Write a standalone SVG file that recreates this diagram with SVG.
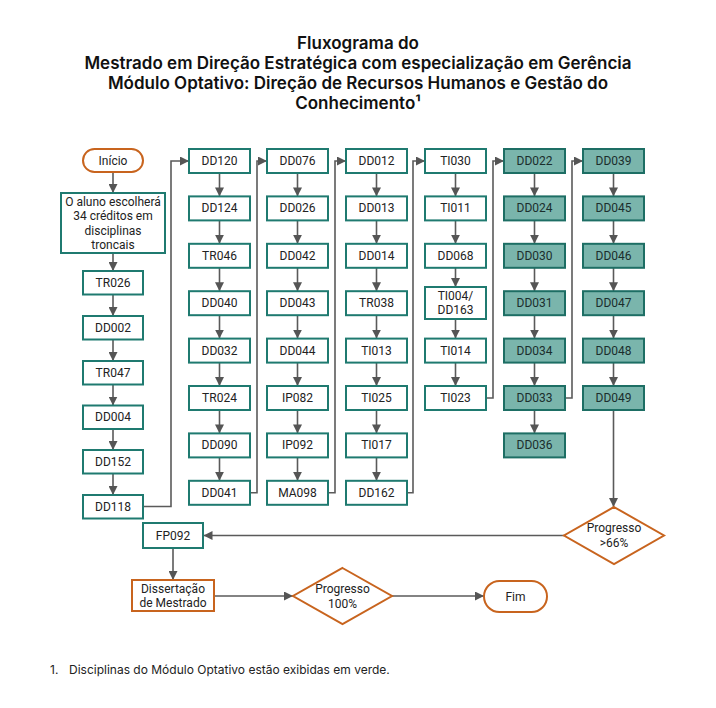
<svg xmlns="http://www.w3.org/2000/svg" width="716" height="708" viewBox="0 0 716 708">
<style>
.bg{fill:#ffffff}
.title{font-family:Inter,"Liberation Sans",sans-serif;font-size:17px;font-weight:600;fill:#111;text-anchor:middle}
.foot{font-family:Inter,"Liberation Sans",sans-serif;font-size:12px;fill:#222}
.box rect{fill:#ffffff;stroke:#1f7a70;stroke-width:2}
.opt rect{fill:#7ab5ac;stroke:#1d6e64;stroke-width:2}
.org rect,.org path{fill:#ffffff;stroke:#c8641e;stroke-width:2}
.lbl{font-family:Roboto,"Liberation Sans",sans-serif;font-size:12px;fill:#222;text-anchor:middle;dominant-baseline:central}
.opt .lbl{fill:#1b2e2c}
.con path{fill:none;stroke:#5a5a5a;stroke-width:1.6}
</style>
<defs>
<marker id="ah" viewBox="0 0 10 10" refX="10" refY="5" markerWidth="9" markerHeight="9" markerUnits="userSpaceOnUse" orient="auto">
<path d="M0,0 L10,5 L0,10 z" fill="#555555"/>
</marker>
</defs>
<rect class="bg" x="0" y="0" width="716" height="708"/>

<g id="title">
<text class="title" x="358" y="49">Fluxograma do</text>
<text class="title" x="358" y="69">Mestrado em Direção Estratégica com especialização em Gerência</text>
<text class="title" x="358" y="89">Módulo Optativo: Direção de Recursos Humanos e Gestão do</text>
<text class="title" x="358" y="109">Conhecimento¹</text>
</g>

<g id="connectors" class="con">
<path d="M113,172 V193" marker-end="url(#ah)"/>
<path d="M113,253 V271" marker-end="url(#ah)"/>
<path d="M113,294.5 V316" marker-end="url(#ah)"/>
<path d="M113,339.5 V361" marker-end="url(#ah)"/>
<path d="M113,384.5 V405.5" marker-end="url(#ah)"/>
<path d="M113,429 V450" marker-end="url(#ah)"/>
<path d="M113,473.5 V495" marker-end="url(#ah)"/>
<path d="M143,506.5 H171 V161 H189" marker-end="url(#ah)"/>
<path d="M219.5,173 V196.4" marker-end="url(#ah)"/>
<path d="M219.5,220.4 V243.8" marker-end="url(#ah)"/>
<path d="M219.5,267.8 V291.2" marker-end="url(#ah)"/>
<path d="M219.5,315.2 V338.6" marker-end="url(#ah)"/>
<path d="M219.5,362.6 V386" marker-end="url(#ah)"/>
<path d="M219.5,410 V433.4" marker-end="url(#ah)"/>
<path d="M219.5,457.4 V480.8" marker-end="url(#ah)"/>
<path d="M250,492.8 H257 V161 H267" marker-end="url(#ah)"/>
<path d="M297.5,173 V196.4" marker-end="url(#ah)"/>
<path d="M297.5,220.4 V243.8" marker-end="url(#ah)"/>
<path d="M297.5,267.8 V291.2" marker-end="url(#ah)"/>
<path d="M297.5,315.2 V338.6" marker-end="url(#ah)"/>
<path d="M297.5,362.6 V386" marker-end="url(#ah)"/>
<path d="M297.5,410 V433.4" marker-end="url(#ah)"/>
<path d="M297.5,457.4 V480.8" marker-end="url(#ah)"/>
<path d="M328,492.8 H335 V161 H346" marker-end="url(#ah)"/>
<path d="M376.5,173 V196.4" marker-end="url(#ah)"/>
<path d="M376.5,220.4 V243.8" marker-end="url(#ah)"/>
<path d="M376.5,267.8 V291.2" marker-end="url(#ah)"/>
<path d="M376.5,315.2 V338.6" marker-end="url(#ah)"/>
<path d="M376.5,362.6 V386" marker-end="url(#ah)"/>
<path d="M376.5,410 V433.4" marker-end="url(#ah)"/>
<path d="M376.5,457.4 V480.8" marker-end="url(#ah)"/>
<path d="M407,492.8 H413 V161 H425" marker-end="url(#ah)"/>
<path d="M455.5,173 V196.4" marker-end="url(#ah)"/>
<path d="M455.5,220.4 V243.8" marker-end="url(#ah)"/>
<path d="M455.5,267.8 V287" marker-end="url(#ah)"/>
<path d="M455.5,319 V338.6" marker-end="url(#ah)"/>
<path d="M455.5,362.6 V386" marker-end="url(#ah)"/>
<path d="M486,398 H493 V161 H504" marker-end="url(#ah)"/>
<path d="M534.5,173 V196.4" marker-end="url(#ah)"/>
<path d="M534.5,220.4 V243.8" marker-end="url(#ah)"/>
<path d="M534.5,267.8 V291.2" marker-end="url(#ah)"/>
<path d="M534.5,315.2 V338.6" marker-end="url(#ah)"/>
<path d="M534.5,362.6 V386" marker-end="url(#ah)"/>
<path d="M534.5,410 V433.4" marker-end="url(#ah)"/>
<path d="M565,398 H572 V161 H583" marker-end="url(#ah)"/>
<path d="M613.5,173 V196.4" marker-end="url(#ah)"/>
<path d="M613.5,220.4 V243.8" marker-end="url(#ah)"/>
<path d="M613.5,267.8 V291.2" marker-end="url(#ah)"/>
<path d="M613.5,315.2 V338.6" marker-end="url(#ah)"/>
<path d="M613.5,362.6 V386" marker-end="url(#ah)"/>
<path d="M613.5,410 V507" marker-end="url(#ah)"/>
<path d="M564,535.5 H203.5" marker-end="url(#ah)"/>
<path d="M173,548 V580" marker-end="url(#ah)"/>
<path d="M214,596 H293" marker-end="url(#ah)"/>
<path d="M392,596 H484" marker-end="url(#ah)"/>
</g>

<g id="n-inicio" class="org"><rect x="83" y="149" width="60" height="23" rx="11.5"/><text class="lbl" x="113" y="160.5">Início</text></g>
<g id="n-aluno" class="box"><rect x="61" y="193" width="104" height="60"/>
<text class="lbl" x="113" y="201.5">O aluno escolherá</text>
<text class="lbl" x="113" y="216">34 créditos em</text>
<text class="lbl" x="113" y="230.5">disciplinas</text>
<text class="lbl" x="113" y="245">troncais</text></g>
<g id="n-TR026" class="box"><rect x="83" y="271" width="60" height="23.5"/><text class="lbl" x="113" y="282.8">TR026</text></g>
<g id="n-DD002" class="box"><rect x="83" y="316" width="60" height="23.5"/><text class="lbl" x="113" y="327.8">DD002</text></g>
<g id="n-TR047" class="box"><rect x="83" y="361" width="60" height="23.5"/><text class="lbl" x="113" y="372.8">TR047</text></g>
<g id="n-DD004" class="box"><rect x="83" y="405.5" width="60" height="23.5"/><text class="lbl" x="113" y="417.3">DD004</text></g>
<g id="n-DD152" class="box"><rect x="83" y="450" width="60" height="23.5"/><text class="lbl" x="113" y="461.8">DD152</text></g>
<g id="n-DD118" class="box"><rect x="83" y="495" width="60" height="23.5"/><text class="lbl" x="113" y="506.8">DD118</text></g>

<g id="n-DD120" class="box"><rect x="189" y="149" width="61" height="24"/><text class="lbl" x="219.5" y="161">DD120</text></g>
<g id="n-DD124" class="box"><rect x="189" y="196.4" width="61" height="24"/><text class="lbl" x="219.5" y="208.4">DD124</text></g>
<g id="n-TR046" class="box"><rect x="189" y="243.8" width="61" height="24"/><text class="lbl" x="219.5" y="255.8">TR046</text></g>
<g id="n-DD040" class="box"><rect x="189" y="291.2" width="61" height="24"/><text class="lbl" x="219.5" y="303.2">DD040</text></g>
<g id="n-DD032" class="box"><rect x="189" y="338.6" width="61" height="24"/><text class="lbl" x="219.5" y="350.6">DD032</text></g>
<g id="n-TR024" class="box"><rect x="189" y="386" width="61" height="24"/><text class="lbl" x="219.5" y="398">TR024</text></g>
<g id="n-DD090" class="box"><rect x="189" y="433.4" width="61" height="24"/><text class="lbl" x="219.5" y="445.4">DD090</text></g>
<g id="n-DD041" class="box"><rect x="189" y="480.8" width="61" height="24"/><text class="lbl" x="219.5" y="492.8">DD041</text></g>

<g id="n-DD076" class="box"><rect x="267" y="149" width="61" height="24"/><text class="lbl" x="297.5" y="161">DD076</text></g>
<g id="n-DD026" class="box"><rect x="267" y="196.4" width="61" height="24"/><text class="lbl" x="297.5" y="208.4">DD026</text></g>
<g id="n-DD042" class="box"><rect x="267" y="243.8" width="61" height="24"/><text class="lbl" x="297.5" y="255.8">DD042</text></g>
<g id="n-DD043" class="box"><rect x="267" y="291.2" width="61" height="24"/><text class="lbl" x="297.5" y="303.2">DD043</text></g>
<g id="n-DD044" class="box"><rect x="267" y="338.6" width="61" height="24"/><text class="lbl" x="297.5" y="350.6">DD044</text></g>
<g id="n-IP082" class="box"><rect x="267" y="386" width="61" height="24"/><text class="lbl" x="297.5" y="398">IP082</text></g>
<g id="n-IP092" class="box"><rect x="267" y="433.4" width="61" height="24"/><text class="lbl" x="297.5" y="445.4">IP092</text></g>
<g id="n-MA098" class="box"><rect x="267" y="480.8" width="61" height="24"/><text class="lbl" x="297.5" y="492.8">MA098</text></g>

<g id="n-DD012" class="box"><rect x="346" y="149" width="61" height="24"/><text class="lbl" x="376.5" y="161">DD012</text></g>
<g id="n-DD013" class="box"><rect x="346" y="196.4" width="61" height="24"/><text class="lbl" x="376.5" y="208.4">DD013</text></g>
<g id="n-DD014" class="box"><rect x="346" y="243.8" width="61" height="24"/><text class="lbl" x="376.5" y="255.8">DD014</text></g>
<g id="n-TR038" class="box"><rect x="346" y="291.2" width="61" height="24"/><text class="lbl" x="376.5" y="303.2">TR038</text></g>
<g id="n-TI013" class="box"><rect x="346" y="338.6" width="61" height="24"/><text class="lbl" x="376.5" y="350.6">TI013</text></g>
<g id="n-TI025" class="box"><rect x="346" y="386" width="61" height="24"/><text class="lbl" x="376.5" y="398">TI025</text></g>
<g id="n-TI017" class="box"><rect x="346" y="433.4" width="61" height="24"/><text class="lbl" x="376.5" y="445.4">TI017</text></g>
<g id="n-DD162" class="box"><rect x="346" y="480.8" width="61" height="24"/><text class="lbl" x="376.5" y="492.8">DD162</text></g>

<g id="n-TI030" class="box"><rect x="425" y="149" width="61" height="24"/><text class="lbl" x="455.5" y="161">TI030</text></g>
<g id="n-TI011" class="box"><rect x="425" y="196.4" width="61" height="24"/><text class="lbl" x="455.5" y="208.4">TI011</text></g>
<g id="n-DD068" class="box"><rect x="425" y="243.8" width="61" height="24"/><text class="lbl" x="455.5" y="255.8">DD068</text></g>
<g id="n-TI004" class="box"><rect x="425" y="287" width="61" height="32"/><text class="lbl" x="455.5" y="296">TI004/</text><text class="lbl" x="455.5" y="310">DD163</text></g>
<g id="n-TI014" class="box"><rect x="425" y="338.6" width="61" height="24"/><text class="lbl" x="455.5" y="350.6">TI014</text></g>
<g id="n-TI023" class="box"><rect x="425" y="386" width="61" height="24"/><text class="lbl" x="455.5" y="398">TI023</text></g>

<g id="n-DD022" class="opt"><rect x="504" y="149" width="61" height="24"/><text class="lbl" x="534.5" y="161">DD022</text></g>
<g id="n-DD024" class="opt"><rect x="504" y="196.4" width="61" height="24"/><text class="lbl" x="534.5" y="208.4">DD024</text></g>
<g id="n-DD030" class="opt"><rect x="504" y="243.8" width="61" height="24"/><text class="lbl" x="534.5" y="255.8">DD030</text></g>
<g id="n-DD031" class="opt"><rect x="504" y="291.2" width="61" height="24"/><text class="lbl" x="534.5" y="303.2">DD031</text></g>
<g id="n-DD034" class="opt"><rect x="504" y="338.6" width="61" height="24"/><text class="lbl" x="534.5" y="350.6">DD034</text></g>
<g id="n-DD033" class="opt"><rect x="504" y="386" width="61" height="24"/><text class="lbl" x="534.5" y="398">DD033</text></g>
<g id="n-DD036" class="opt"><rect x="504" y="433.4" width="61" height="24"/><text class="lbl" x="534.5" y="445.4">DD036</text></g>

<g id="n-DD039" class="opt"><rect x="583" y="149" width="61" height="24"/><text class="lbl" x="613.5" y="161">DD039</text></g>
<g id="n-DD045" class="opt"><rect x="583" y="196.4" width="61" height="24"/><text class="lbl" x="613.5" y="208.4">DD045</text></g>
<g id="n-DD046" class="opt"><rect x="583" y="243.8" width="61" height="24"/><text class="lbl" x="613.5" y="255.8">DD046</text></g>
<g id="n-DD047" class="opt"><rect x="583" y="291.2" width="61" height="24"/><text class="lbl" x="613.5" y="303.2">DD047</text></g>
<g id="n-DD048" class="opt"><rect x="583" y="338.6" width="61" height="24"/><text class="lbl" x="613.5" y="350.6">DD048</text></g>
<g id="n-DD049" class="opt"><rect x="583" y="386" width="61" height="24"/><text class="lbl" x="613.5" y="398">DD049</text></g>

<g id="n-prog66" class="org"><path d="M614,507 L664,535.5 L614,564 L564,535.5 Z"/><text class="lbl" x="614" y="528">Progresso</text><text class="lbl" x="614" y="543">&gt;66%</text></g>
<g id="n-FP092" class="box"><rect x="143" y="523" width="60" height="25"/><text class="lbl" x="173" y="535.5">FP092</text></g>
<g id="n-dissert" class="org"><rect x="132" y="580" width="82" height="31"/><text class="lbl" x="173" y="588.5">Dissertação</text><text class="lbl" x="173" y="603">de Mestrado</text></g>
<g id="n-prog100" class="org"><path d="M342.5,568 L392,596 L342.5,624 L293,596 Z"/><text class="lbl" x="342.5" y="589">Progresso</text><text class="lbl" x="342.5" y="604">100%</text></g>
<g id="n-fim" class="org"><rect x="484" y="581" width="63" height="31" rx="15.5"/><text class="lbl" x="515.5" y="596.5">Fim</text></g>

<g id="footnote">
<text class="foot" x="50" y="674">1.</text>
<text class="foot" x="69" y="674">Disciplinas do Módulo Optativo estão exibidas em verde.</text>
</g>
</svg>
